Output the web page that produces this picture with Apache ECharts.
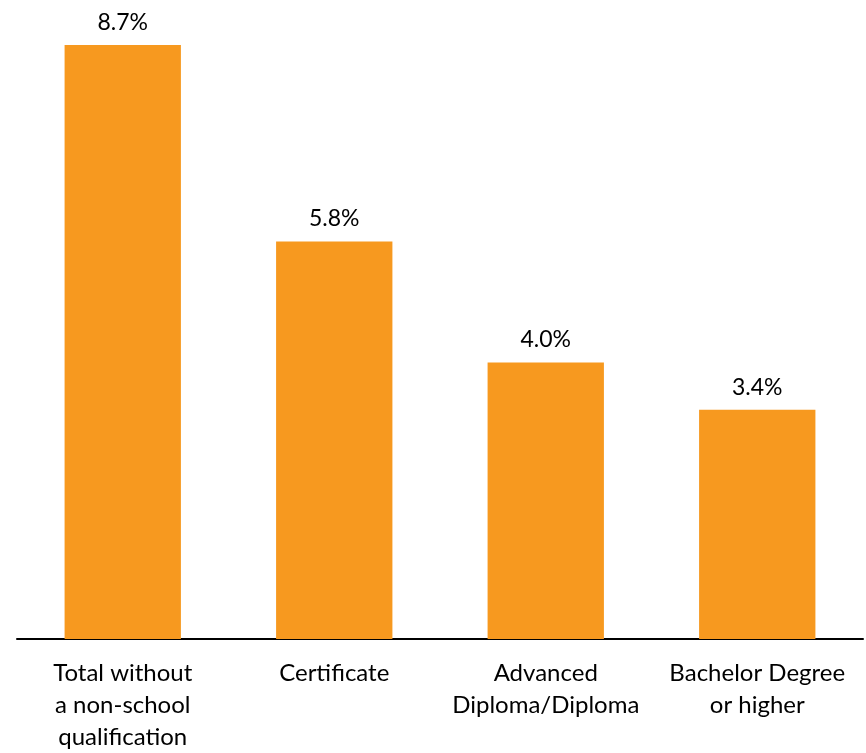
<!DOCTYPE html>
<html><head><meta charset="utf-8">
<script src="https://cdn.jsdelivr.net/npm/echarts@6/dist/echarts.min.js"></script>
<style>html,body{margin:0;padding:0;background:#fff}#c{width:866px;height:753px}</style>
</head><body><div id="c"></div>
<script>
const categories = ["Total without\na non-school\nqualification", "Certificate", "Advanced\nDiploma/Diploma", "Bachelor Degree\nor higher"];
const values = [8.68, 5.81, 4.04, 3.35];
const chart = echarts.init(document.getElementById('c'), null, {renderer: 'canvas'});
const FONT = 'Lato';
chart.setOption({
  animation: false,
  grid: {left: 17, right: 3, top: 45, bottom: 109, containLabel: false},
  xAxis: {
    type: 'category', data: categories,
    axisLine: {lineStyle: {color: '#000', width: 2}},
    axisTick: {show: false},
    axisLabel: {color: '#000', fontFamily: FONT, fontSize: 24, lineHeight: 32, margin: 18, interval: 0}
  },
  yAxis: {type: 'value', min: 0, max: 8.68, show: false, splitLine: {show: false}},
  series: [{
    type: 'bar', data: values, barWidth: '55%',
    itemStyle: {color: '#F7991F'},
    label: {show: true, position: 'top', distance: 11, color: '#000', fontFamily: FONT, fontSize: 23,
      formatter: p => p.value.toFixed(1) + '%'}
  }]
});
</script></body></html>
